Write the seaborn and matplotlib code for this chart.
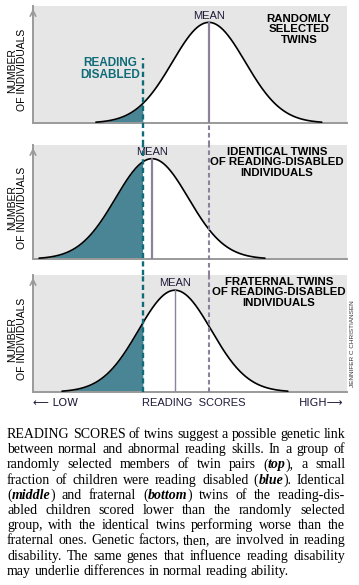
import numpy as np
import seaborn as sns
import matplotlib.pyplot as plt

# panel data (reading score on a 0-100 scale)
panel_titles = ['RANDOMLY\nSELECTED\nTWINS',
                'IDENTICAL TWINS\nOF READING-DISABLED\nINDIVIDUALS',
                'FRATERNAL TWINS\nOF READING-DISABLED\nINDIVIDUALS']
group_means = [56.0, 37.9, 45.2]
group_sd = [11.6, 11.6, 11.6]
peak_height = [0.86, 0.88, 0.87]
cutoff = 35.0          # reading-disabled threshold
overall_mean = 56.0    # mean of randomly selected twins

caption = [
    'READING SCORES of twins suggest a possible genetic link',
    'between normal and abnormal reading skills. In a group of',
    'randomly selected members of twin pairs (*top*), a small',
    'fraction of children were reading disabled (*blue*). Identical',
    '(*middle*) and fraternal (*bottom*) twins of the reading-dis-',
    'abled children scored lower than the randomly selected',
    'group, with the identical twins performing worse than the',
    'fraternal ones. Genetic factors, then, are involved in reading',
    'disability. The same genes that influence reading disability',
    'may underlie differences in normal reading ability.',
]

sns.set_style('white')
plt.rcParams['font.family'] = ['Liberation Sans Narrow', 'Liberation Sans', 'DejaVu Sans']

GRAY_BG = '#e6e6e6'
AXIS = '#9a9a9a'
TEAL = '#0f6b78'
TEAL_FILL = '#4a8595'
PURPLE = '#8c8299'
INK = '#1f1b3a'

W, H = 359, 585
fig = plt.figure(figsize=(W / 100, H / 100), dpi=100)

def px_box(left, top, right, bottom):
    return [left / W, 1 - bottom / H, (right - left) / W, (bottom - top) / H]

# (top, bottom) pixel rows of each panel
rows = [(6, 123), (145, 259), (275, 392)]
axes = [fig.add_axes(px_box(33, t, 347, b)) for t, b in rows]

for i, ax in enumerate(axes):
    top, bottom = rows[i]
    h = bottom - top
    mu, sd, pk = group_means[i], group_sd[i], peak_height[i]
    x = np.linspace(mu - 3.1 * sd, mu + 3.1 * sd, 300)
    y = pk * np.exp(-0.5 * ((x - mu) / sd) ** 2)

    ax.set_facecolor(GRAY_BG)
    ax.fill_between(x, 0, y, color='white', lw=0, zorder=1)
    ax.fill_between(x, 0, y, where=x <= cutoff, color=TEAL_FILL, lw=0, zorder=2)
    sns.lineplot(x=x, y=y, ax=ax, color='black', lw=1.2, zorder=3)

    ax.set_xlim(0, 100)
    ax.set_ylim(0, 1)
    ax.set_xticks([])
    ax.set_yticks([])
    ax.set_xlabel('')
    ax.set_ylabel('')
    for s in ['top', 'right']:
        ax.spines[s].set_visible(False)
    for s in ['left', 'bottom']:
        ax.spines[s].set_color(AXIS)
        ax.spines[s].set_linewidth(1.4)
    ax.annotate('', xy=(0, 1.0), xytext=(0, 0.9), xycoords='axes fraction',
                arrowprops=dict(arrowstyle='->', color=AXIS, lw=1.2),
                annotation_clip=False)

    # dashed guide lines running down through the panels
    gap_below = (rows[i + 1][0] - bottom) / h if i < 2 else 0
    dash = (0, (2.2, 1.4))
    if i == 0:
        ax.axvline(cutoff, ymin=-gap_below, ymax=(bottom - 58) / h, color=TEAL,
                   lw=1.7, ls=dash, clip_on=False, zorder=5)
        ax.axvline(overall_mean, ymin=0, ymax=pk, color=PURPLE, lw=1.6, zorder=4)
        ax.axvline(overall_mean, ymin=-gap_below, ymax=0, color=PURPLE,
                   lw=1.5, ls=dash, clip_on=False, zorder=4)
        ax.text(cutoff - 10.5, (bottom - 57) / h, 'READING\nDISABLED', color=TEAL,
                fontsize=8.5, fontweight='bold', ha='center', va='top',
                linespacing=1.05)
    else:
        ax.axvline(cutoff, ymin=-gap_below, ymax=1, color=TEAL, lw=1.7, ls=dash,
                   clip_on=False, zorder=5)
        ax.axvline(overall_mean, ymin=-gap_below, ymax=1, color=PURPLE, lw=1.5,
                   ls=dash, clip_on=False, zorder=4)
        ax.axvline(mu, ymin=0, ymax=pk, color=PURPLE, lw=1.6 if i == 1 else 1.0,
                   zorder=4)

    ax.text(mu, pk + 0.015, 'MEAN', color=INK, fontsize=8, ha='center',
            va='bottom')
    ax.text([84.7, 77.7, 78.3][i] / 100, [0.935, 0.985, 0.985][i], panel_titles[i],
            transform=ax.transAxes, color='black', fontsize=8.2, fontweight='bold',
            ha='center', va='top', linespacing=1.08)
    ax.text(-0.051, 0.45, 'NUMBER\nOF INDIVIDUALS', transform=ax.transAxes,
            rotation=90, fontsize=7.5, ha='center', va='center', color='black',
            linespacing=1.0, multialignment='center')

# reading-score axis labels
fig.text(33 / W, 1 - 403 / H, '\u27f5 LOW', fontsize=8, color=INK, va='center',
         ha='left', family=['Liberation Sans Narrow', 'DejaVu Sans'])
fig.text(194 / W, 1 - 403 / H, 'READING  SCORES', fontsize=8, color=INK,
         va='center', ha='center')
fig.text(344 / W, 1 - 403 / H, 'HIGH\u27f6', fontsize=8, color=INK, va='center',
         ha='right', family=['Liberation Sans Narrow', 'DejaVu Sans'])
fig.text(352 / W, 1 - 344 / H, 'JENNIFER C CHRISTIANSEN', rotation=90,
         fontsize=4.6, ha='center', va='center', color='#333333')

# justified caption
renderer = fig.canvas.get_renderer()
left_px, right_px = 7, 345
base0, step = 438, 15.2
serif = ['Liberation Serif', 'DejaVu Serif']
cap_fs = 10
for n, line in enumerate(caption):
    yb = 1 - (base0 + n * step) / H
    words = []
    for w in line.split(' '):
        parts = w.split('*')
        segs = []
        for k, p in enumerate(parts):
            if not p:
                continue
            italic = k % 2 == 1
            t = fig.text(0, yb, p, fontsize=cap_fs, family=serif, va='baseline',
                         ha='left', color='black',
                         style='italic' if italic else 'normal',
                         fontweight='bold' if italic else 'normal')
            segs.append((t, t.get_window_extent(renderer=renderer).width))
        words.append(segs)
    widths = [sum(s[1] for s in segs) for segs in words]
    if n < len(caption) - 1:
        gap = (right_px - left_px - sum(widths)) / (len(words) - 1)
    else:
        sp = fig.text(0, 0, 'a a', fontsize=cap_fs, family=serif)
        sp2 = fig.text(0, 0, 'aa', fontsize=cap_fs, family=serif)
        gap = (sp.get_window_extent(renderer=renderer).width
               - sp2.get_window_extent(renderer=renderer).width)
        sp.remove()
        sp2.remove()
    xpos = left_px
    for segs, wd in zip(words, widths):
        xx = xpos
        for t, sw in segs:
            t.set_x(xx / W)
            xx += sw
        xpos += wd + gap

fig.savefig('out.png', dpi=100)
